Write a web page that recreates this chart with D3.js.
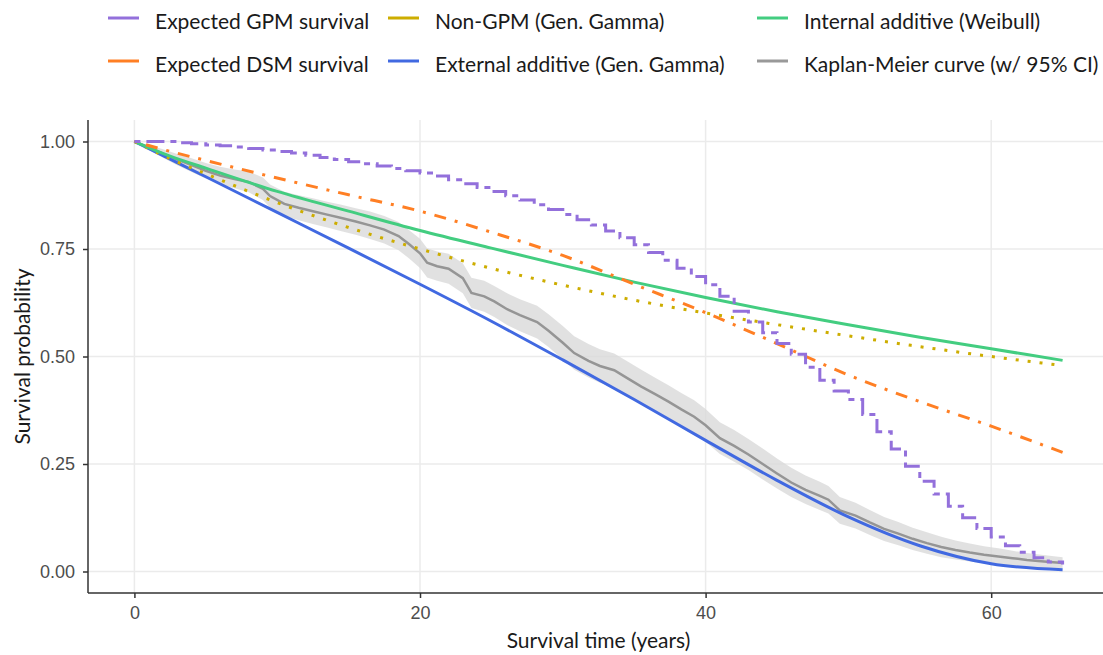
<!DOCTYPE html>
<html>
<head>
<meta charset="utf-8">
<script src="https://cdn.jsdelivr.net/npm/d3@7"></script>
<style>
  body { margin: 0; background: #fff; }
  svg { display: block; font-family: Lato, "Open Sans", sans-serif; }
  .tick text { fill: #4d4d4d; font-size: 18px; }
  .legend-text { font-size: 21px; fill: #1a1a1a; }
  .axis-title { font-size: 21px; fill: #1a1a1a; }
</style>
</head>
<body>
<div id="chart"></div>
<script>
// fitted curves, read every 5 years (plus 2.5)
var fitTimes = [0, 2.5, 5, 10, 15, 20, 25, 30, 35, 40, 45, 50, 55, 60, 65];
var dsmSurv      = [1, 0.977, 0.956, 0.915, 0.876, 0.838, 0.789, 0.735, 0.668, 0.602, 0.530, 0.457, 0.395, 0.338, 0.277];
var nonGpmSurv   = [1, 0.960, 0.925, 0.858, 0.800, 0.750, 0.705, 0.666, 0.631, 0.601, 0.574, 0.548, 0.523, 0.500, 0.479];
var externalSurv = [1, 0.959, 0.918, 0.835, 0.752, 0.668, 0.582, 0.492, 0.400, 0.305, 0.212, 0.127, 0.060, 0.018, 0.004];
var internalSurv = [1, 0.966, 0.938, 0.884, 0.838, 0.793, 0.752, 0.712, 0.673, 0.637, 0.604, 0.574, 0.545, 0.518, 0.491];

// expected GPM survival, one value per year (0..65), step function
var gpmYears = d3.range(0, 66);
var gpmSurv = [1.0, 1.0, 1.0, 0.997, 0.995, 0.992, 0.99, 0.987, 0.984, 0.98,
  0.977, 0.973, 0.968, 0.963, 0.958, 0.953, 0.948, 0.943, 0.937, 0.932,
  0.927, 0.92, 0.911, 0.902, 0.893, 0.884, 0.874, 0.864, 0.853, 0.842,
  0.83, 0.818, 0.806, 0.792, 0.776, 0.76, 0.742, 0.724, 0.705, 0.686,
  0.667, 0.64, 0.605, 0.58, 0.555, 0.53, 0.505, 0.475, 0.445, 0.42,
  0.40, 0.365, 0.325, 0.285, 0.245, 0.21, 0.18, 0.152, 0.125, 0.10,
  0.08, 0.06, 0.045, 0.032, 0.022, 0.016];

// Kaplan-Meier estimate and half width of its 95% CI
var kmTime = [0, 1, 2, 3, 4, 5, 6, 7, 8, 9, 9.5, 10.5, 11.5, 12.5, 13.5, 14.5, 15.5, 16.5, 17.5, 18.5,
  19.2, 20, 20.5, 21.2, 22, 23, 23.6, 24.5, 25.2, 26.1, 27, 28.2, 29, 30, 30.8, 31.8, 32.6, 33.6, 34.6, 35.5,
  36.5, 37.4, 38.3, 39.2, 40, 41, 42, 43, 44, 45, 46, 47, 48, 48.6, 49.4, 50.5, 51.5, 52.5, 53.5, 54.5,
  55.5, 56.5, 57.5, 58.5, 59.5, 60.5, 61.5, 62.5, 63.5, 65];
var kmSurv = [1.0, 0.986, 0.972, 0.958, 0.945, 0.932, 0.921, 0.913, 0.906, 0.890, 0.873, 0.855, 0.846, 0.838, 0.830, 0.822, 0.814, 0.805, 0.795, 0.780,
  0.762, 0.740, 0.718, 0.710, 0.704, 0.682, 0.648, 0.640, 0.628, 0.610, 0.596, 0.580, 0.560, 0.532, 0.508, 0.490, 0.478, 0.468, 0.448, 0.430,
  0.412, 0.395, 0.377, 0.360, 0.340, 0.310, 0.292, 0.272, 0.250, 0.228, 0.207, 0.190, 0.176, 0.167, 0.142, 0.130, 0.114, 0.099, 0.088, 0.076,
  0.066, 0.057, 0.050, 0.044, 0.039, 0.035, 0.031, 0.027, 0.024, 0.020];
var kmHalfCI = [0, 0.006, 0.010, 0.013, 0.016, 0.018, 0.020, 0.022, 0.024, 0.026, 0.027, 0.028, 0.029, 0.030, 0.030, 0.031, 0.031, 0.032, 0.032, 0.033,
  0.033, 0.034, 0.034, 0.034, 0.035, 0.035, 0.035, 0.036, 0.036, 0.037, 0.037, 0.038, 0.038, 0.039, 0.039, 0.039, 0.039, 0.039, 0.039, 0.039,
  0.038, 0.038, 0.038, 0.038, 0.038, 0.037, 0.037, 0.036, 0.036, 0.035, 0.034, 0.033, 0.033, 0.032, 0.031, 0.030, 0.029, 0.028, 0.027, 0.026,
  0.025, 0.024, 0.022, 0.021, 0.020, 0.019, 0.017, 0.016, 0.015, 0.013];

var xTicks = [0, 20, 40, 60];
var yTicks = [0, 0.25, 0.5, 0.75, 1];

var legendItems = [
  { label: "Expected GPM survival",        color: "#9370DB" },
  { label: "Expected DSM survival",        color: "#FF7F24" },
  { label: "Non-GPM (Gen. Gamma)",         color: "#CDAD00" },
  { label: "External additive (Gen. Gamma)", color: "#4169E1" },
  { label: "Internal additive (Weibull)",  color: "#43CD80" },
  { label: "Kaplan-Meier curve (w/ 95% CI)", color: "#999999" }
];

// Margin
const margin = { top: 120, right: -6, bottom: 62, left: 88 };
const W = 1103, H = 655;
const width = W - margin.left - margin.right;
const height = H - margin.top - margin.bottom;

var xScale = d3.scaleLinear().domain([-3.25, 68.25]).range([0, width]);
var yScale = d3.scaleLinear().domain([-0.05, 1.05]).range([height, 0]);

const svg = d3.select("#chart").append("svg")
  .attr("width", W).attr("height", H)
  .style("overflow", "hidden");

var g = svg.append("g")
  .attr("transform", "translate(" + margin.left + "," + margin.top + ")");

// grid
g.selectAll(".gx").data(xTicks).enter().append("line")
  .attr("x1", d => xScale(d)).attr("x2", d => xScale(d))
  .attr("y1", 0).attr("y2", height)
  .attr("stroke", "#ebebeb").attr("stroke-width", 1.5);
g.selectAll(".gy").data(yTicks).enter().append("line")
  .attr("x1", 0).attr("x2", width)
  .attr("y1", d => yScale(d)).attr("y2", d => yScale(d))
  .attr("stroke", "#ebebeb").attr("stroke-width", 1.5);

// KM ribbon
var kmData = kmTime.map((t, i) => ({ t: t, s: kmSurv[i], lo: kmSurv[i] - kmHalfCI[i], hi: kmSurv[i] + kmHalfCI[i] }));
g.append("path")
  .datum(kmData)
  .attr("fill", "#d9d9d9").attr("fill-opacity", 0.8)
  .attr("d", d3.area()
    .x(d => xScale(d.t)).y0(d => yScale(d.lo)).y1(d => yScale(d.hi)));

var lineFit = d3.line().curve(d3.curveMonotoneX)
  .x(d => xScale(d[0])).y(d => yScale(d[1]));
var lineStep = d3.line().curve(d3.curveStepAfter)
  .x(d => xScale(d[0])).y(d => yScale(d[1]));

// KM line
g.append("path")
  .datum(kmData.map(d => [d.t, d.s]))
  .attr("fill", "none").attr("stroke", "#959595").attr("stroke-width", 2.5)
  .attr("d", d3.line().x(d => xScale(d[0])).y(d => yScale(d[1])));

function drawFit(values, color, dash) {
  g.append("path")
    .datum(fitTimes.map((t, i) => [t, values[i]]))
    .attr("fill", "none").attr("stroke", color).attr("stroke-width", 3)
    .attr("stroke-dasharray", dash)
    .attr("d", lineFit);
}
drawFit(externalSurv, "#4169E1", null);
drawFit(nonGpmSurv, "#CDAD00", "3,9");
drawFit(internalSurv, "#43CD80", null);
drawFit(dsmSurv, "#FF7F24", "3,9,12,9");

g.append("path")
  .datum(gpmYears.map((t, i) => [t, gpmSurv[i]]))
  .attr("fill", "none").attr("stroke", "#9370DB").attr("stroke-width", 3)
  .attr("stroke-dasharray", "6,6,18,6")
  .attr("d", lineStep);

// axes
var xAxis = d3.axisBottom(xScale).tickValues(xTicks).tickSize(5).tickPadding(8);
var yAxis = d3.axisLeft(yScale).tickValues(yTicks).tickFormat(d3.format(".2f")).tickSize(5).tickPadding(8);

var gx = g.append("g").attr("transform", "translate(0," + height + ")").call(xAxis);
var gy = g.append("g").call(yAxis);
[gx, gy].forEach(function(a) {
  a.select(".domain").attr("stroke", "#333").attr("stroke-width", 1.5);
  a.selectAll(".tick line").attr("stroke", "#333").attr("stroke-width", 1.5);
  a.selectAll("text").attr("font-family", null).attr("font-size", null);
});
gx.select(".domain").attr("d", "M0,0H" + width);
gy.select(".domain").attr("d", "M0," + height + "V0");

// axis titles
svg.append("text").attr("class", "axis-title")
  .attr("text-anchor", "middle")
  .attr("x", margin.left + width / 2).attr("y", 648)
  .text("Survival time (years)");
svg.append("text").attr("class", "axis-title")
  .attr("text-anchor", "middle")
  .attr("transform", "translate(30," + (margin.top + height / 2) + ") rotate(-90)")
  .text("Survival probability");

// legend, filled by column
var legCols = [108, 388, 757];
var legRows = [18, 61];
var leg = svg.selectAll(".leg").data(legendItems).enter().append("g")
  .attr("transform", (d, i) => "translate(" + legCols[Math.floor(i / 2)] + "," + legRows[i % 2] + ")");
leg.append("line")
  .attr("x1", 0).attr("x2", 31).attr("y1", 0).attr("y2", 0)
  .attr("stroke", d => d.color).attr("stroke-width", 3);
leg.append("text").attr("class", "legend-text")
  .attr("x", 47).attr("y", 11)
  .text(d => d.label);
</script>
</body>
</html>
